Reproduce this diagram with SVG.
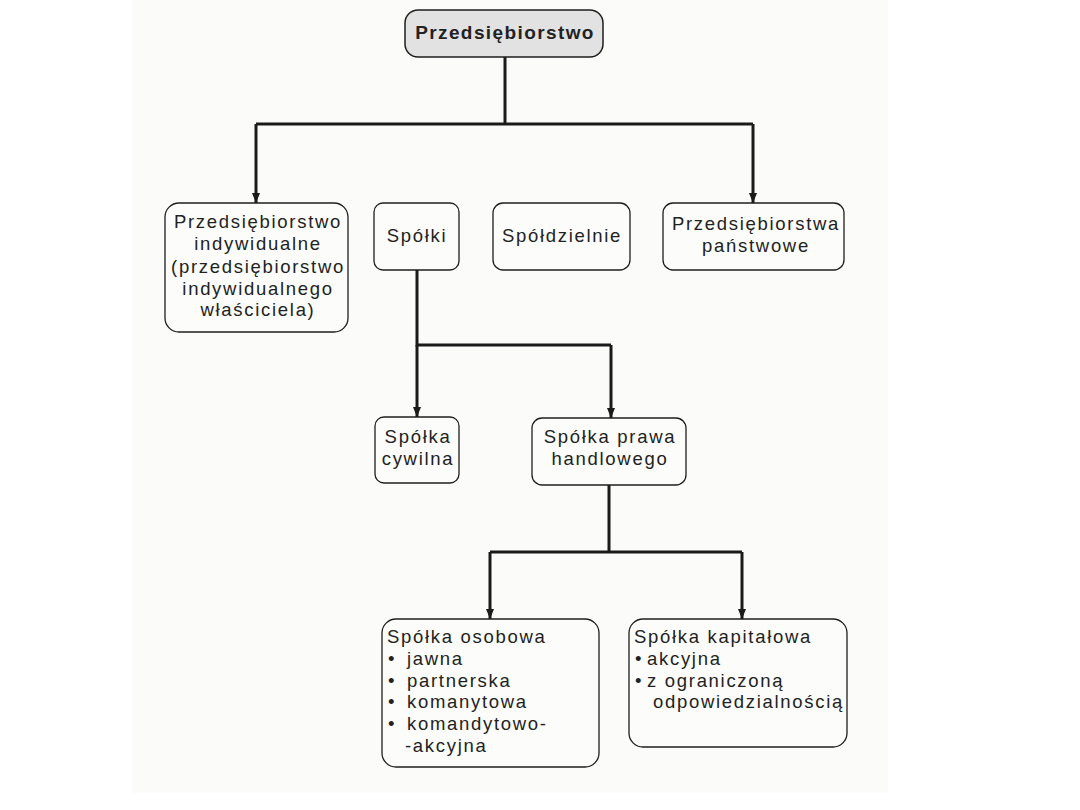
<svg xmlns="http://www.w3.org/2000/svg" width="1080" height="810" viewBox="0 0 1080 810">
<style>
.box{fill:#fcfdfa;stroke:#1e1e1e;stroke-width:1.3}
.root{fill:#e2e2e2;stroke:#1e1e1e;stroke-width:1.5}
.t{font-family:"Liberation Sans",Arial,sans-serif;font-size:18.5px;fill:#222;letter-spacing:1.7px}
.c{text-anchor:middle}
.b{font-weight:bold;font-size:19px;letter-spacing:1.4px}
.conn path{fill:none;stroke:#1a1a1a;stroke-width:3}
</style>
<defs>
<marker id="arr" markerUnits="userSpaceOnUse" markerWidth="10" markerHeight="8" refX="10" refY="4" orient="auto" viewBox="0 0 10 8">
<path d="M0,0 L10,4 L0,8 Z" fill="#1a1a1a"/>
</marker>
</defs>
<rect x="0" y="0" width="1080" height="810" fill="#ffffff"/>
<rect x="132" y="0" width="756" height="793" fill="#fbfcf9"/>
<g class="conn">
<path d="M505,57 V124"/>
<path d="M256,124 H753"/>
<path d="M256,124 V203" marker-end="url(#arr)"/>
<path d="M753,124 V203" marker-end="url(#arr)"/>
<path d="M417,270 V345 H611"/>
<path d="M417,345 V417" marker-end="url(#arr)"/>
<path d="M611,345 V418" marker-end="url(#arr)"/>
<path d="M609,485 V552"/>
<path d="M490,552 H742"/>
<path d="M490,552 V619" marker-end="url(#arr)"/>
<path d="M742,552 V619" marker-end="url(#arr)"/>
</g>
<g id="n-przedsiebiorstwo">
<rect class="root" x="405" y="10" width="198" height="47" rx="13"/>
<text class="t b c" x="505" y="39">Przedsiębiorstwo</text>
</g>
<g id="n-indywidualne">
<rect class="box" x="165" y="203" width="183" height="129" rx="14"/>
<text class="t c" x="258" y="228">Przedsiębiorstwo</text>
<text class="t c" x="258" y="250">indywidualne</text>
<text class="t c" x="258" y="273">(przedsiębiorstwo</text>
<text class="t c" x="258" y="295">indywidualnego</text>
<text class="t c" x="258" y="316">właściciela)</text>
</g>
<g id="n-spolki">
<rect class="box" x="374" y="203" width="85" height="67" rx="9"/>
<text class="t c" x="417" y="242">Spółki</text>
</g>
<g id="n-spoldzielnie">
<rect class="box" x="493" y="203" width="137" height="67" rx="10"/>
<text class="t c" x="562" y="242">Spółdzielnie</text>
</g>
<g id="n-panstwowe">
<rect class="box" x="663" y="203" width="181" height="67" rx="10"/>
<text class="t c" x="756" y="230">Przedsiębiorstwa</text>
<text class="t c" x="756" y="252">państwowe</text>
</g>
<g id="n-cywilna">
<rect class="box" x="375" y="417" width="84" height="66" rx="9"/>
<text class="t c" x="418" y="443">Spółka</text>
<text class="t c" x="418" y="465">cywilna</text>
</g>
<g id="n-handlowego">
<rect class="box" x="532" y="418" width="154" height="67" rx="10"/>
<text class="t c" x="610" y="443">Spółka prawa</text>
<text class="t c" x="610" y="465">handlowego</text>
</g>
<g id="n-osobowa">
<rect class="box" x="382" y="619" width="217" height="148" rx="14"/>
<text class="t" x="387" y="643">Spółka osobowa</text>
<text class="t" x="388" y="665">•</text>
<text class="t" x="407" y="665">jawna</text>
<text class="t" x="388" y="687">•</text>
<text class="t" x="407" y="687">partnerska</text>
<text class="t" x="388" y="708">•</text>
<text class="t" x="407" y="708">komanytowa</text>
<text class="t" x="388" y="730">•</text>
<text class="t" x="407" y="730">komandytowo-</text>
<text class="t" x="405" y="752">-akcyjna</text>
</g>
<g id="n-kapitalowa">
<rect class="box" x="629" y="619" width="218" height="128" rx="14"/>
<text class="t" x="634" y="643">Spółka kapitałowa</text>
<text class="t" x="635" y="665">•</text>
<text class="t" x="647" y="665">akcyjna</text>
<text class="t" x="635" y="687">•</text>
<text class="t" x="647" y="687">z ograniczoną</text>
<text class="t" x="653" y="708">odpowiedzialnością</text>
</g>
</svg>
